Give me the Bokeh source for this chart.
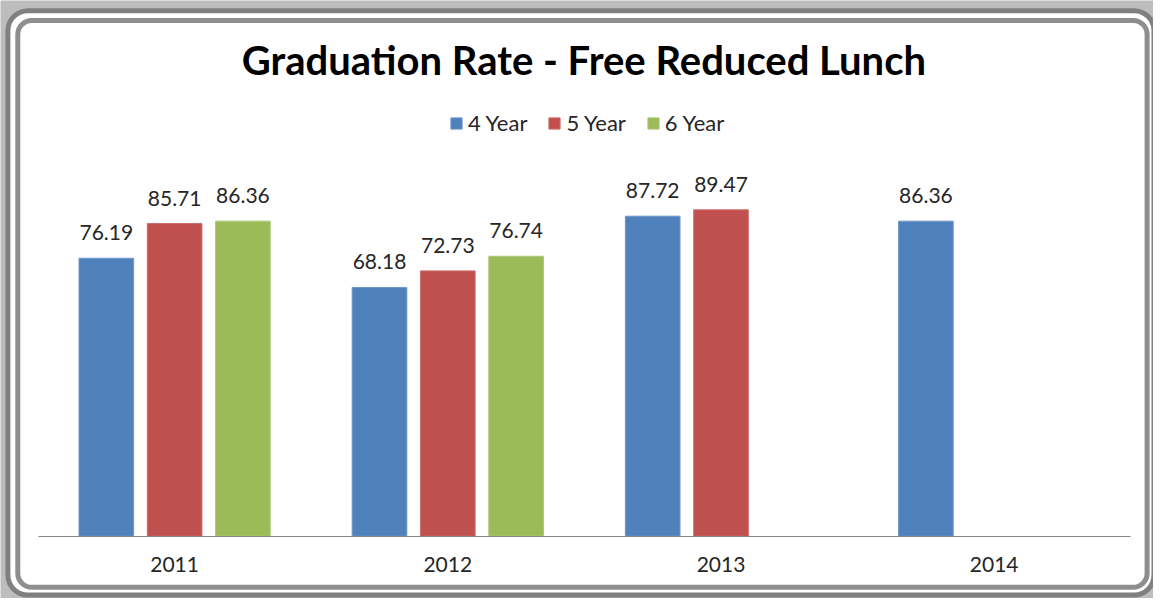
from bokeh.plotting import figure
from bokeh.models import (Range1d, ColumnDataSource, Legend, LegendItem, BoxAnnotation,
                          FixedTicker, Label)
from bokeh.transform import dodge
from bokeh.core.properties import value
from bokeh.embed import file_html
from bokeh.resources import INLINE

# ---- data ----
years = ["2011", "2012", "2013", "2014"]
series_names = ["4 Year", "5 Year", "6 Year"]
four_year = [76.19, 68.18, 87.72, 86.36]
five_year = [85.71, 72.73, 89.47, None]
six_year = [86.36, 76.74, None, None]
title_text = "Graduation Rate - Free Reduced Lunch"

# ---- style ----
colors = ["#4F81BD", "#C0504D", "#9BBB59"]
edge_colors = ["#6D96CA", "#CC6E6B", "#ADC877"]
offsets = [-0.25, 0.0, 0.25]
FONT = "Lato"
TXT = "#262626"
W, H = 1153, 598

cat_pos = list(range(len(years)))

p = figure(width=W, height=H,
           x_range=Range1d(-0.6373, len(years) - 0.4169),
           y_range=Range1d(-17.08, 146.85),
           output_backend="svg", toolbar_location=None,
           min_border_left=0, min_border_right=0, min_border_top=0, min_border_bottom=0)

p.border_fill_color = "#bdbdbd"
p.background_fill_color = "#bdbdbd"
p.outline_line_color = None
p.xgrid.visible = False
p.ygrid.visible = False
p.yaxis.visible = False

# rounded double frame (screen units inside the full-canvas frame, y measured upward)
outer = BoxAnnotation(left=7.4, right=1153.5, bottom=3.4, top=587.8,
                      left_units="screen", right_units="screen",
                      top_units="screen", bottom_units="screen",
                      fill_color="white", fill_alpha=1,
                      line_color="#808080", line_alpha=1, line_width=5,
                      border_radius=20, level="underlay")
inner = BoxAnnotation(left=17.3, right=1146.6, bottom=11.2, top=578,
                      left_units="screen", right_units="screen",
                      top_units="screen", bottom_units="screen",
                      fill_alpha=0, line_color="#8e8e8e", line_alpha=1, line_width=5,
                      border_radius=14, level="underlay")
p.add_layout(outer)
p.add_layout(inner)

# x axis drawn at the baseline
ax = p.xaxis[0]
ax.fixed_location = 0
ax.ticker = FixedTicker(ticks=cat_pos)
ax.major_label_overrides = {i: y for i, y in zip(cat_pos, years)}
ax.bounds = (cat_pos[0] - 0.5, cat_pos[-1] + 0.5)
ax.axis_line_color = "#868686"
ax.axis_line_width = 1
ax.major_tick_line_color = None
ax.minor_tick_line_color = None
ax.major_label_text_font = FONT
ax.major_label_text_font_size = "21px"
ax.major_label_text_color = TXT
ax.major_label_standoff = 15

# title
p.add_layout(Label(x=583.4, y=538.5, x_units="screen", y_units="screen", text=title_text,
                   text_align="center", text_baseline="middle", text_font=FONT,
                   text_font_size="40px", text_font_style="bold", text_color="black"))

series = [four_year, five_year, six_year]
items = []
for name, vals, col, ecol, off in zip(series_names, series, colors, edge_colors, offsets):
    xs = [c for c, v in zip(cat_pos, vals) if v is not None]
    vs = [v for v in vals if v is not None]
    src = ColumnDataSource(dict(x=xs, val=vs, label=[f"{v:.2f}" for v in vs]))
    r = p.vbar(x=dodge("x", off), top="val", width=0.2, source=src,
               fill_color=col, line_color=ecol, line_width=1)
    p.text(x=dodge("x", off), y="val", text="label", source=src,
           text_align="center", text_baseline="bottom", y_offset=-18,
           text_font=value(FONT), text_font_size="21px", text_color=TXT)
    items.append(LegendItem(label=name, renderers=[r]))

legend = Legend(items=items, location=(449, 462), orientation="horizontal",
                border_line_color=None, background_fill_alpha=0,
                label_text_font=FONT, label_text_font_size="22px", label_text_color=TXT,
                glyph_width=14, glyph_height=14, label_standoff=5, spacing=20,
                margin=0, padding=4)
p.add_layout(legend)

open("out.html", "w").write(file_html(p, INLINE))
